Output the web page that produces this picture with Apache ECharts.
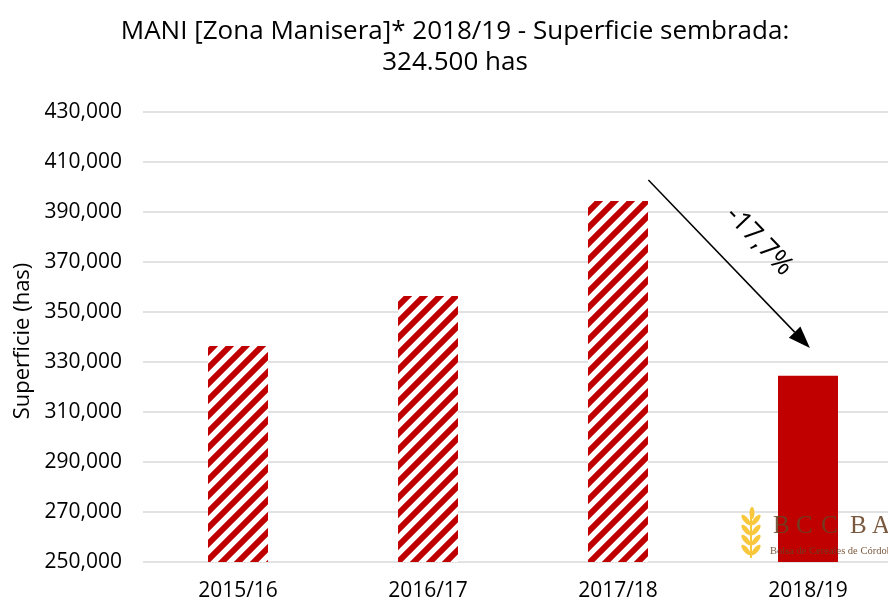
<!DOCTYPE html>
<html><head><meta charset="utf-8">
<script src="https://cdn.jsdelivr.net/npm/echarts@6/dist/echarts.min.js"></script>
<style>html,body{margin:0;padding:0;background:#fff;overflow:hidden;width:888px;height:602px}#c{width:904px;height:602px}</style>
</head><body><div id="c"></div>
<script>
var categories = ['2015/16', '2016/17', '2017/18', '2018/19'];
var values = [336400, 356400, 394400, 324500];
var yMin = 250000, yMax = 430000, yStep = 20000;
var titleLines = ['MANI [Zona Manisera]* 2018/19 - Superficie sembrada:', '324.500 has'];
var changeLabel = '-17,7%';
// arrow annotation in data space: [category index, value]
var arrowFrom = [2.16, 402800];
var arrowTo = [3.01, 335600];

var FONT = '"Open Sans"';
function makePattern() {
  var P = 16;
  var c = document.createElement('canvas');
  c.width = P; c.height = P;
  var ctx = c.getContext('2d');
  ctx.fillStyle = '#ffffff'; ctx.fillRect(0, 0, P, P);
  ctx.strokeStyle = '#c00000';
  ctx.lineWidth = P / (2 * Math.SQRT2) * 1.05;
  ctx.beginPath();
  for (var k = -1; k <= 3; k++) {
    var cc = k * P;
    ctx.moveTo(cc + P, -P); ctx.lineTo(cc - 2 * P, 2 * P);
  }
  ctx.stroke();
  return c;
}
var pattern = makePattern();
function fmt(v) { return String(v).replace(/\B(?=(\d{3})+(?!\d))/g, ','); }

var chart = echarts.init(document.getElementById('c'), null, {renderer: 'canvas'});
var data = values.map(function (v, i) {
  return {
    value: v,
    itemStyle: {color: i === values.length - 1 ? '#c00000' : {image: pattern, repeat: 'repeat'}}
  };
});
chart.setOption({
  animation: false,
  title: {
    text: titleLines.join('\n'), left: 450, textAlign: 'center', top: 11,
    textStyle: {fontFamily: FONT, fontWeight: 'normal', fontSize: 26, color: '#000', lineHeight: 31}
  },
  grid: {left: 143, right: 1, top: 112, bottom: 40},
  xAxis: {
    type: 'category', data: categories,
    axisLine: {show: false}, axisTick: {show: false},
    axisLabel: {fontFamily: FONT, fontSize: 21, color: '#000', margin: 19}
  },
  yAxis: {
    type: 'value', min: yMin, max: yMax, interval: yStep,
    name: 'Superficie (has)', nameLocation: 'middle', nameGap: 109, nameRotate: 90,
    nameTextStyle: {fontFamily: FONT, fontSize: 22, color: '#000', padding: [0, 8, 0, 0]},
    axisLine: {show: false}, axisTick: {show: false},
    splitLine: {lineStyle: {color: '#d9d9d9', width: 1.5}},
    axisLabel: {fontFamily: FONT, fontSize: 21, color: '#000', margin: 21, formatter: fmt}
  },
  series: [{type: 'bar', data: data, barWidth: 60, z: 2}]
});

function px(pt) {
  var i0 = Math.floor(pt[0]), f = pt[0] - i0;
  var a = chart.convertToPixel({gridIndex: 0}, [i0, pt[1]]);
  var b = chart.convertToPixel({gridIndex: 0}, [i0 + 1, pt[1]]);
  return [a[0] + (b[0] - a[0]) * f, a[1]];
}
var p1 = px(arrowFrom), p2 = px(arrowTo);
var ang = Math.atan2(p2[1] - p1[1], p2[0] - p1[0]);
var head = 22, hw = 8;
var bx = p2[0] - head * Math.cos(ang), by = p2[1] - head * Math.sin(ang);
var nx = -Math.sin(ang), ny = Math.cos(ang);
var mx = (p1[0] + p2[0]) / 2, my = (p1[1] + p2[1]) / 2;

var brown = 'rgba(105,66,36,0.88)';
var yellow = '#f8c73c';
var logoLetters = ['B', 'C', 'C', 'B', 'A'];
var letterX = [773, 796, 821, 850, 872];
var logo = [];
logoLetters.forEach(function (ch, i) {
  logo.push({type: 'text', x: letterX[i], y: 514, z: 120,
    style: {text: ch, font: '25px "Liberation Serif"', fill: brown}});
});
logo.push({type: 'text', x: 770, y: 546, z: 120,
  style: {text: 'Bolsa de Cereales de Córdoba', font: '10.5px "Liberation Serif"', fill: brown}});
// wheat
logo.push({type: 'line', shape: {x1: 751, y1: 512, x2: 751, y2: 558}, style: {stroke: yellow, lineWidth: 2}, z: 119});
logo.push({type: 'ellipse', shape: {cx: 752, cy: 513, rx: 2.5, ry: 6}, style: {fill: yellow}, z: 119});
[520, 530, 540, 550].forEach(function (yy) {
  logo.push({type: 'ellipse', shape: {cx: 746, cy: yy, rx: 2.5, ry: 6.5}, rotation: 0.7, originX: 746, originY: yy, style: {fill: yellow}, z: 119});
  logo.push({type: 'ellipse', shape: {cx: 756, cy: yy, rx: 2.5, ry: 6.5}, rotation: -0.7, originX: 756, originY: yy, style: {fill: yellow}, z: 119});
});

chart.setOption({
  graphic: [
    {type: 'line', shape: {x1: p1[0], y1: p1[1], x2: bx, y2: by}, style: {stroke: '#000', lineWidth: 1.5}, z: 100},
    {type: 'polygon', shape: {points: [[p2[0], p2[1]], [bx + nx * hw, by + ny * hw], [bx - nx * hw, by - ny * hw]]}, style: {fill: '#000'}, z: 100},
    {type: 'text', x: mx + 30, y: my - 23, rotation: -ang, z: 100,
      style: {text: changeLabel, font: '27px ' + FONT, fill: '#000', align: 'center', verticalAlign: 'middle'}}
  ].concat(logo)
});
</script></body></html>
